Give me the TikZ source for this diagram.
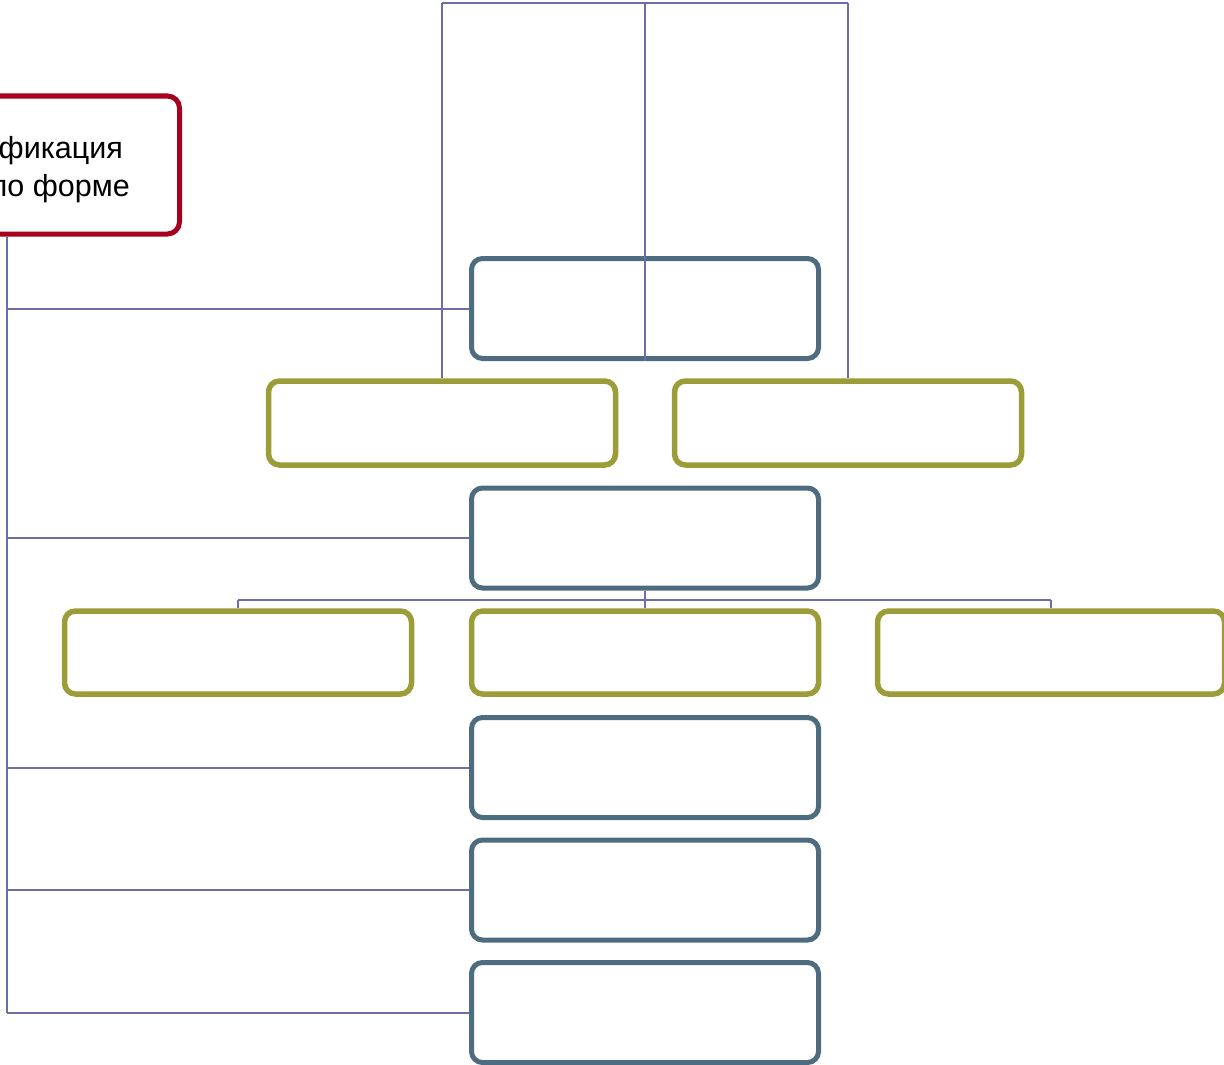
\documentclass[tikz,border=0pt]{standalone}
\usepackage{fontspec}
\setmainfont{Liberation Sans}
\definecolor{tealc}{HTML}{4D6C80}
\definecolor{olivec}{HTML}{9C9C38}
\definecolor{redc}{HTML}{A6001F}
\definecolor{linec}{HTML}{6E6EA6}
\begin{document}
\begin{tikzpicture}[x=1pt,y=-1pt,
  tealbox/.style={draw=tealc,line width=5pt,rounded corners=11pt,fill=white,minimum width=347pt,minimum height=100pt,inner sep=0pt},
  olivebox/.style={draw=olivec,line width=5.5pt,rounded corners=11pt,fill=white,minimum width=347pt,minimum height=84pt,inner sep=0pt},
  redbox/.style={draw=redc,line width=5pt,rounded corners=12pt,fill=white,minimum width=352pt,minimum height=138pt,inner sep=0pt},
  conn/.style={draw=linec,line width=2pt},
  lbl/.style={inner sep=0pt,anchor=base east,font=\fontsize{30.5}{36}\selectfont}]
\useasboundingbox (0,0) rectangle (1224,1065);
\clip (0,0) rectangle (1224,1065);
\coordinate (sp) at (7,0);
\coordinate (t1) at (442,3);
\coordinate (tm) at (645,3);
\coordinate (t2) at (848,3);
\coordinate (bus) at (0,600);
% boxes
\node[redbox] (red) at (3.5,165) {};
\node[lbl] (txt1) at (123,158) {фикация};
\node[lbl] (txt2) at (130,196) {по форме};
\node[tealbox] (b1) at (645,308.5) {};
\node[olivebox] (o1) at (442,423) {};
\node[olivebox] (o2) at (848,423) {};
\node[tealbox] (b2) at (645,538) {};
\node[olivebox,minimum height=83pt] (o3) at (238,652.5) {};
\node[olivebox,minimum height=83pt] (o4) at (645,652.5) {};
\node[olivebox,minimum height=83pt] (o5) at (1051,652.5) {};
\node[tealbox] (b3) at (645,767.5) {};
\node[tealbox] (b4) at (645,890) {};
\node[tealbox] (b5) at (645,1012.5) {};
% connectors
\draw[conn] (t1) -- (t2);
\draw[conn] (tm) -- (b1.south);
\draw[conn] (t1) -- (o1.north);
\draw[conn] (t2) -- (o2.north);
\draw[conn] (red.south -| sp) -- (sp |- b5.west);
\foreach \b in {b1,b2,b3,b4,b5} \draw[conn] (sp |- \b.west) -- (\b.west);
\draw[conn] (b2.south) -- (b2.south |- bus);
\draw[conn] (o3.north |- bus) -- (o5.north |- bus);
\foreach \o in {o3,o4,o5} \draw[conn] (\o.north |- bus) -- (\o.north);
\end{tikzpicture}
\end{document}
